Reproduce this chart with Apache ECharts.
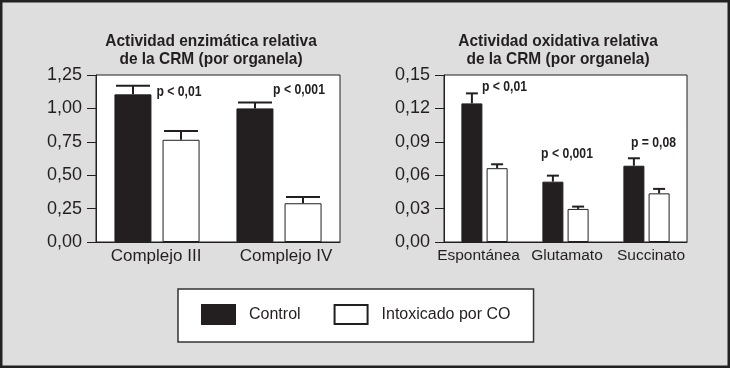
<!DOCTYPE html>
<html>
<head>
<meta charset="utf-8">
<script src="https://cdn.jsdelivr.net/npm/echarts@6/dist/echarts.min.js"></script>
<style>
  html, body { margin: 0; padding: 0; background: #dedede; }
  #chart { width: 730px; height: 368px; }
</style>
</head>
<body>
<div id="chart"></div>
<script>
// Actividad enzimática relativa (por organela)
const enzCategories = ['Complejo III', 'Complejo IV']
const enzControl = [1.105, 1.0]
const enzControlErr = [1.17, 1.045]
const enzIntox = [0.765, 0.29]
const enzIntoxErr = [0.83, 0.337]
const enzPLabels = ['p < 0,01', 'p < 0,001']
const enzPLabelY = [1.12, 1.14]
const enzTicks = { min: 0, max: 1.25, interval: 0.25 }

// Actividad oxidativa relativa (por organela)
const oxCategories = ['Espontánea', 'Glutamato', 'Succinato']
const oxControl = [0.1245, 0.0542, 0.0685]
const oxControlErr = [0.1335, 0.0596, 0.0752]
const oxIntox = [0.0663, 0.0297, 0.0437]
const oxIntoxErr = [0.0698, 0.0318, 0.0477]
const oxPLabels = ['p < 0,01', 'p < 0,001', 'p = 0,08']
const oxPLabelY = [0.139, 0.079, 0.089]
const oxTicks = { min: 0, max: 0.15, interval: 0.03 }

const seriesNames = ['Control', 'Intoxicado por CO']

const ink = '#231f20'
const textFont = '"Liberation Sans", Arial, sans-serif'

const chart = echarts.init(document.getElementById('chart'))

function commaLabel(v) {
  return v.toFixed(2).replace('.', ',')
}

function errorBars(offset, capW) {
  return function (params, api) {
    const base = api.coord([api.value(0), api.value(1)])
    const top = api.coord([api.value(0), api.value(2)])
    const x = base[0] + offset
    return {
      type: 'group',
      children: [
        { type: 'line', shape: { x1: x, y1: base[1], x2: x, y2: top[1] }, style: { stroke: ink, lineWidth: 2 } },
        { type: 'line', shape: { x1: x - capW / 2, y1: top[1], x2: x + capW / 2, y2: top[1] }, style: { stroke: ink, lineWidth: 2 } }
      ]
    }
  }
}

function pLabels(texts, shifts) {
  return function (params, api) {
    const p = api.coord([api.value(0), api.value(1)])
    return {
      type: 'text',
      x: p[0] + shifts[params.dataIndex],
      y: p[1],
      scaleX: 0.87,
      style: {
        text: texts[params.dataIndex],
        fill: ink,
        font: 'bold 14px ' + textFont,
        textAlign: 'center',
        textVerticalAlign: 'middle'
      }
    }
  }
}

function yAxis(gridIndex, ticks) {
  return {
    type: 'value',
    gridIndex: gridIndex,
    min: ticks.min,
    max: ticks.max,
    interval: ticks.interval,
    axisLine: { show: true, lineStyle: { color: ink, width: 1 } },
    axisTick: { show: true, length: 9, lineStyle: { color: ink, width: 1 } },
    axisLabel: { color: ink, fontSize: 18, fontFamily: textFont, margin: 14, formatter: commaLabel },
    splitLine: { show: false }
  }
}

// small per-label nudges so the category names sit where the original has them
function xAxis(gridIndex, cats, size, pads) {
  return {
    type: 'category',
    gridIndex: gridIndex,
    data: cats.map((c, i) => ({ value: c, textStyle: { padding: pads[i] } })),
    axisLine: { show: true, lineStyle: { color: ink, width: 1 } },
    axisTick: { show: false },
    axisLabel: { color: ink, fontSize: size, fontFamily: textFont, margin: 6, interval: 0 }
  }
}

function bars(name, gi, values, width, gap) {
  const isControl = name === seriesNames[0]
  return {
    name: name,
    type: 'bar',
    xAxisIndex: gi,
    yAxisIndex: gi,
    data: values,
    barWidth: width,
    barGap: gap,
    itemStyle: {
      color: isControl ? ink : '#ffffff',
      borderColor: ink,
      borderWidth: 1
    }
  }
}

function titleText(x, text) {
  return {
    type: 'text',
    x: x,
    y: 50,
    scaleX: 0.91,
    style: {
      text: text,
      font: 'bold 17px ' + textFont,
      lineHeight: 18,
      fill: ink,
      textAlign: 'center',
      textVerticalAlign: 'middle'
    }
  }
}

const enzOffset = 24
const oxOffset = 12.6

chart.setOption({
  backgroundColor: '#dedede',
  animation: false,
  grid: [
    { left: 96, right: 390, top: 75, bottom: 126, show: true, backgroundColor: '#ffffff', borderColor: ink, borderWidth: 1 },
    { left: 444, right: 43, top: 75, bottom: 126, show: true, backgroundColor: '#ffffff', borderColor: ink, borderWidth: 1 }
  ],
  xAxis: [
    xAxis(0, enzCategories, 17, [[0, 2, 0, 0], [0, 0, 0, 14]]),
    xAxis(1, oxCategories, 15.5, [[0, 12, 0, 0], [0, 0, 0, 3], [0, 0, 0, 9]])
  ],
  yAxis: [yAxis(0, enzTicks), yAxis(1, oxTicks)],
  legend: {
    data: seriesNames,
    left: 178,
    top: 289,
    orient: 'horizontal',
    padding: [15, 23, 17, 23],
    itemWidth: 33,
    itemHeight: 19,
    itemGap: 33,
    icon: 'rect',
    backgroundColor: '#ffffff',
    borderColor: '#333333',
    borderWidth: 1.5,
    textStyle: { color: ink, fontSize: 16, fontFamily: textFont, padding: [0, 0, 0, 9] }
  },
  graphic: [
    titleText(211, 'Actividad enzimática relativa\nde la CRM (por organela)'),
    titleText(558, 'Actividad oxidativa relativa\nde la CRM (por organela)'),
    {
      type: 'rect',
      z: 100,
      shape: { x: 0, y: 0, width: 730, height: 368 },
      style: { fill: 'none', stroke: '#222222', lineWidth: 5 }
    }
  ],
  series: [
    bars(seriesNames[0], 0, enzControl, 37, '30%'),
    bars(seriesNames[1], 0, enzIntox, 37, '30%'),
    bars(seriesNames[0], 1, oxControl, 21, '20%'),
    bars(seriesNames[1], 1, oxIntox, 21, '20%'),
    {
      type: 'custom',
      xAxisIndex: 0,
      yAxisIndex: 0,
      renderItem: errorBars(-enzOffset, 34),
      encode: { x: 0, y: [1, 2] },
      data: enzControl.map((v, i) => [i, v, enzControlErr[i]]),
      z: 3
    },
    {
      type: 'custom',
      xAxisIndex: 0,
      yAxisIndex: 0,
      renderItem: errorBars(enzOffset, 34),
      encode: { x: 0, y: [1, 2] },
      data: enzIntox.map((v, i) => [i, v, enzIntoxErr[i]]),
      z: 3
    },
    {
      type: 'custom',
      xAxisIndex: 1,
      yAxisIndex: 1,
      renderItem: errorBars(-oxOffset, 12),
      encode: { x: 0, y: [1, 2] },
      data: oxControl.map((v, i) => [i, v, oxControlErr[i]]),
      z: 3
    },
    {
      type: 'custom',
      xAxisIndex: 1,
      yAxisIndex: 1,
      renderItem: errorBars(oxOffset, 12),
      encode: { x: 0, y: [1, 2] },
      data: oxIntox.map((v, i) => [i, v, oxIntoxErr[i]]),
      z: 3
    },
    {
      type: 'custom',
      xAxisIndex: 0,
      yAxisIndex: 0,
      renderItem: pLabels(enzPLabels, [22, 20]),
      encode: { x: 0, y: 1 },
      data: enzPLabelY.map((v, i) => [i, v]),
      z: 4
    },
    {
      type: 'custom',
      xAxisIndex: 1,
      yAxisIndex: 1,
      renderItem: pLabels(oxPLabels, [20, 1.5, 7]),
      encode: { x: 0, y: 1 },
      data: oxPLabelY.map((v, i) => [i, v]),
      z: 4
    }
  ]
})
</script>
</body>
</html>
